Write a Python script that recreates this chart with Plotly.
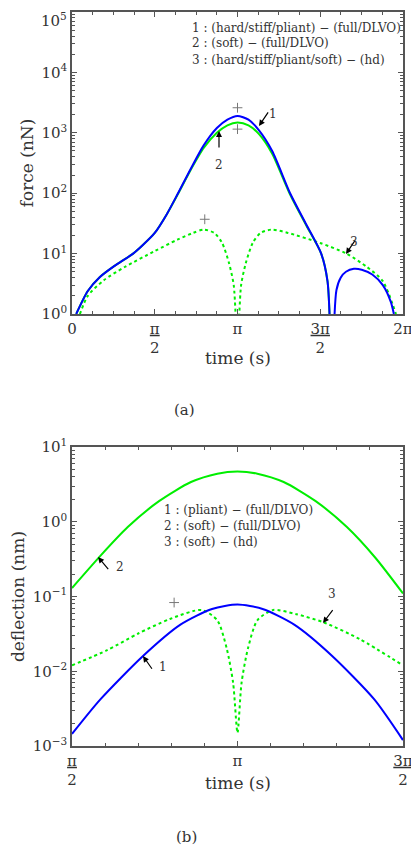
import plotly.graph_objects as go
import numpy as np

PI = np.pi
# ---- panel (a): force ----
t_f1 = [0.08, 0.3, 0.53, 0.8, 1.16, 1.35, 1.571, 1.8, 2.0, 2.25, 2.5, 2.75, 2.95, 3.1416, 3.35, 3.55, 3.8, 4.14, 4.45, 4.73, 4.85, 4.90]
F1 = [1.0, 2.4, 4.1, 6.2, 10, 14, 22, 45, 95, 250, 620, 1200, 1650, 1900, 1650, 1100, 500, 100, 30, 10, 3.5, 0.5]
t_f1b = [4.97, 5.02, 5.1, 5.2, 5.35, 5.5, 5.7, 5.9, 6.05, 6.11]
F1b = [0.5, 2.5, 4.0, 5.0, 5.6, 5.4, 4.5, 3.0, 1.6, 1.0]
t_f2 = [0.08, 0.3, 0.53, 0.8, 1.16, 1.35, 1.571, 1.8, 2.0, 2.25, 2.5, 2.75, 2.95, 3.1416, 3.35, 3.55, 3.8, 4.14, 4.45, 4.73, 4.85, 4.90]
F2 = [1.0, 2.4, 4.1, 6.2, 10, 14, 22, 45, 93, 240, 560, 1000, 1330, 1480, 1330, 950, 450, 95, 29, 10, 3.5, 0.5]
t_f3 = [0.15, 0.3, 0.6, 1.0, 1.571, 2.0, 2.3, 2.5, 2.7, 2.85, 2.98, 3.07, 3.1416, 3.21, 3.3, 3.43, 3.58, 3.79, 4.1, 4.71, 5.21, 5.6, 5.9, 6.15]
F3 = [1.0, 2.0, 3.6, 6.0, 11, 17, 22, 25, 22, 15, 7, 3, 0.3, 3, 7, 15, 22, 25, 22, 15, 10, 6, 3.5, 1.0]
mk_a_t = [2.52, 3.1416, 3.1416]
mk_a_v = [37, 2600, 1150]

# ---- panel (b): deflection ----
t_d1 = [1.571, 1.84, 2.245, 2.6, 2.9, 3.1416, 3.38, 3.68, 4.04, 4.44, 4.712]
D1 = [0.00145, 0.0042, 0.016, 0.042, 0.068, 0.078, 0.068, 0.042, 0.016, 0.0042, 0.0012]
t_d2 = [1.571, 1.84, 2.1, 2.4, 2.7, 2.95, 3.1416, 3.33, 3.58, 3.88, 4.18, 4.45, 4.712]
D2 = [0.13, 0.35, 0.85, 1.9, 3.4, 4.4, 4.7, 4.4, 3.4, 1.9, 0.85, 0.33, 0.11]
t_d3 = [1.571, 1.9, 2.2, 2.5, 2.8, 2.95, 3.04, 3.1, 3.1416, 3.18, 3.24, 3.33, 3.48, 3.7, 3.96, 4.3, 4.712]
D3 = [0.012, 0.019, 0.032, 0.05, 0.066, 0.048, 0.02, 0.007, 0.0015, 0.007, 0.02, 0.048, 0.066, 0.058, 0.045, 0.027, 0.012]
mk_b_t = [2.54]
mk_b_v = [0.083]

ya_vals = [1, 10, 100, 1000, 1e4, 1e5]
ya_text = ["10<sup>0</sup>", "10<sup>1</sup>", "10<sup>2</sup>", "10<sup>3</sup>", "10<sup>4</sup>", ""]
ya_top = "10<sup>5</sup>"
yb_vals = [1e-3, 1e-2, 1e-1, 1, 10]
yb_text = ["10<sup>−3</sup>", "10<sup>−2</sup>", "10<sup>−1</sup>", "10<sup>0</sup>", "10<sup>1</sup>"]
FR = "<span style='text-decoration:underline'>%s</span><br>2"

BLUE = "#0000ff"
GREEN = "#00ee00"
FONT = "DejaVu Serif"
AX = "#555555"

def minors(vals):
    return [v * k for v in vals[:-1] for k in range(2, 10)]

fig = go.Figure()
def line(x, y, color, dash, xa, ya):
    fig.add_trace(go.Scatter(x=x, y=y, mode="lines", xaxis=xa, yaxis=ya,
                             line=dict(color=color, width=2, dash=dash, shape="spline", smoothing=0.7),
                             showlegend=False, hoverinfo="skip"))

line(t_f3, F3, GREEN, "dot", "x", "y")
line(t_f2, F2, GREEN, "solid", "x", "y")
line(t_f1, F1, BLUE, "solid", "x", "y")
line(t_f1b, F1b, BLUE, "solid", "x", "y")
fig.add_trace(go.Scatter(x=mk_a_t, y=mk_a_v, mode="markers", xaxis="x", yaxis="y",
                         marker=dict(symbol="cross-thin", size=7, line=dict(color="#777", width=1)),
                         showlegend=False))
line(t_d3, D3, GREEN, "dot", "x2", "y2")
line(t_d2, D2, GREEN, "solid", "x2", "y2")
line(t_d1, D1, BLUE, "solid", "x2", "y2")
fig.add_trace(go.Scatter(x=mk_b_t, y=mk_b_v, mode="markers", xaxis="x2", yaxis="y2",
                         marker=dict(symbol="cross-thin", size=7, line=dict(color="#777", width=1)),
                         showlegend=False))

W, H = 411, 856
ml, mr, mt, mb = 64, 16, 4, 118
area = H - mt - mb
dom_a = [(746 - 314) / area, 1]
dom_b = [0, (746 - 447) / area]

common = dict(showline=True, linecolor=AX, linewidth=1.5, mirror="allticks", ticks="inside",
              ticklen=5, tickcolor=AX, showgrid=False, zeroline=False, automargin=False,
              tickfont=dict(family=FONT, size=15, color="#333"))
fig.update_layout(
    width=W, height=H, margin=dict(l=ml, r=mr, t=mt, b=mb),
    plot_bgcolor="white", paper_bgcolor="white",
    font=dict(family=FONT, color="#333"),
    xaxis=dict(**common, domain=[0, 1], range=[0, 2 * PI], anchor="y",
               tickvals=[0, PI / 2, PI, 3 * PI / 2, 2 * PI],
               ticktext=["0", FR % "π", "π", FR % "3π", "2π"],
               minor=dict(ticks="inside", ticklen=3, tickcolor=AX, dtick=PI / 8, tick0=0)),
    yaxis=dict(**common, type="log", domain=dom_a, range=[0, 5], tickvals=ya_vals, ticktext=ya_text,
               minor=dict(ticks="inside", ticklen=3, tickcolor=AX, tickvals=minors(ya_vals)),
               title=dict(text="force (nN)", font=dict(size=17), standoff=4)),
    xaxis2=dict(**common, domain=[0, 1], range=[PI / 2, 3 * PI / 2], anchor="y2",
                tickvals=[PI / 2, PI, 3 * PI / 2],
                ticktext=[FR % "π", "π", FR % "3π"],
                minor=dict(ticks="inside", ticklen=3, tickcolor=AX, dtick=PI / 10, tick0=PI / 2)),
    yaxis2=dict(**common, type="log", domain=dom_b, range=[-3, 1], tickvals=yb_vals, ticktext=yb_text,
                minor=dict(ticks="inside", ticklen=3, tickcolor=AX, tickvals=minors(yb_vals)),
                title=dict(text="deflection (nm)", font=dict(size=17), standoff=4)),
)

ann = []
def py(ypx):
    return (746 - ypx) / area
def px(xpx):
    return (xpx - 72) / (W - ml - mr)
def leg(text, x, y, xanchor="left"):
    ann.append(dict(text=text, x=px(x), y=py(y), xref="paper", yref="paper", showarrow=False,
                    xanchor=xanchor, yanchor="middle", font=dict(family=FONT, size=12, color="#333"),
                    align="left"))
leg("1 : (hard/stiff/pliant) − (full/DLVO)", 403, 28, "right")
leg("2 : (soft) − (full/DLVO)", 190, 43)
leg("3 : (hard/stiff/pliant/soft) − (hd)", 190, 60)
leg("1 : (pliant) − (full/DLVO)", 162, 510)
leg("2 : (soft) − (full/DLVO)", 162, 526)
leg("3 : (soft) − (hd)", 162, 542)

# top tick label of panel (a), nudged down so it stays inside the page
ann.append(dict(text=ya_top, x=0, y=1, xref="paper", yref="paper", showarrow=False,
                xanchor="right", yanchor="top", xshift=-3, yshift=4,
                font=dict(family=FONT, size=15, color="#333")))

def arrow(label, hx, hy, lx, ly):
    ann.append(dict(x=px(hx), y=py(hy), xref="paper", yref="paper", ax=lx - hx, ay=ly - hy,
                    text="", showarrow=True, arrowhead=2,
                    arrowsize=1, arrowwidth=1.2, arrowcolor="black", standoff=0, startstandoff=7))
    ann.append(dict(x=px(lx), y=py(ly), xref="paper", yref="paper", text=label, showarrow=False,
                    font=dict(family=FONT, size=12, color="#333")))
arrow("1", 259, 126, 273, 105)
arrow("2", 219, 131, 219, 156)
arrow("3", 346, 254, 360, 233)
arrow("2", 98, 557, 114, 576)
arrow("1", 143, 656, 157, 676)
arrow("3", 323, 623, 338, 603)

def label(text, x, y, size):
    ann.append(dict(text=text, x=px(x), y=py(y), xref="paper", yref="paper", showarrow=False,
                    font=dict(family=FONT, size=size, color="#333")))
label("time (s)", 238, 358, 17)
label("time (s)", 238, 795, 17)
label("(a)", 172, 410, 15)
label("(b)", 174, 848, 15)
fig.update_layout(annotations=ann)
fig.write_html("out.html")
